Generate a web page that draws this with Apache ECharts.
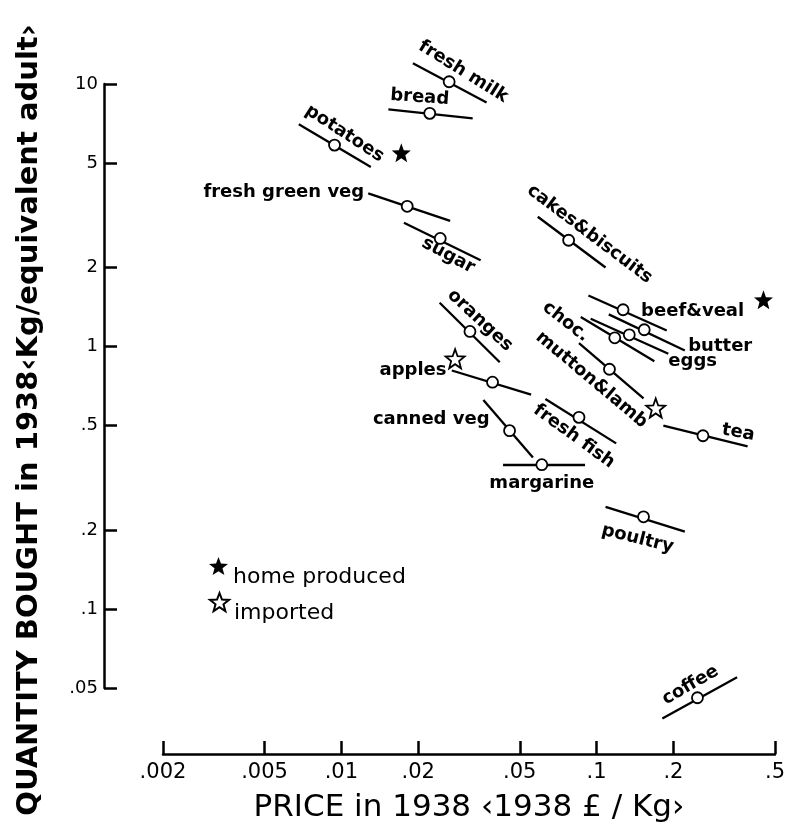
<!DOCTYPE html>
<html><head><meta charset="utf-8">
<script src="https://cdn.jsdelivr.net/npm/echarts@6/dist/echarts.min.js"></script>
<style>html,body{margin:0;padding:0;background:#fff}#c{width:788px;height:829px}</style>
</head><body><div id="c"></div>
<script>
// ---- data ----
const foods = ['fresh milk','bread','potatoes','fresh green veg','sugar','cakes&biscuits','beef&veal','butter','choc.','eggs','mutton&lamb','tea','fresh fish','oranges','apples','canned veg','margarine','poultry','coffee'];
const price    = [0.02644,0.02219,0.00940,0.01811,0.02440,0.0777,0.1270,0.1537,0.1178,0.1343,0.1123,0.2611,0.0853,0.0319,0.0391,0.0456,0.0610,0.1527,0.2484];
const quantity = [10.2,7.73,5.85,3.42,2.58,2.54,1.38,1.158,1.079,1.108,0.819,0.457,0.537,1.141,0.731,0.478,0.3545,0.2245,0.0459];
const segStartPrice = [0.01906,0.01528,0.00681,0.01274,0.01758,0.0588,0.0929,0.1116,0.0867,0.0948,0.0853,0.1826,0.0630,0.02427,0.02709,0.0360,0.0430,0.1084,0.1810];
const segStartQty   = [11.99,8.01,7.02,3.83,2.96,3.12,1.565,1.325,1.294,1.276,1.029,0.4994,0.631,1.468,0.810,0.626,0.355,0.245,0.0383];
const segEndPrice   = [0.03706,0.03269,0.01304,0.02668,0.03512,0.1084,0.1883,0.2217,0.1684,0.1910,0.1527,0.3906,0.1193,0.04174,0.0554,0.0563,0.0901,0.2217,0.3552];
const segEndQty     = [8.51,7.40,4.83,3.01,2.13,2.00,1.151,0.965,0.879,0.938,0.635,0.4164,0.4275,0.871,0.656,0.378,0.355,0.197,0.0550];
const homeProducedPrice = [0.01717,0.4507];
const homeProducedQty   = [5.47,1.507];
const importedPrice = [0.1705,0.0279];
const importedQty   = [0.583,0.898];
const xTickValues = [0.002,0.005,0.01,0.02,0.05,0.1,0.2,0.5];
const xTickLabels = ['.002','.005','.01','.02','.05','.1','.2','.5'];
const yTickValues = [0.05,0.1,0.2,0.5,1,2,5,10];
const yTickLabels = ['.05','.1','.2','.5','1','2','5','10'];

// ---- label placement (screen px offset from point, rotation, alignment) ----
const labelPlacement = {
  'fresh milk':[14,-10,-32,'center'],
  'bread':[-10,-16,-4,'center'],
  'potatoes':[10,-11.5,-33,'center'],
  'fresh green veg':[-43,-14,0,'right'],
  'sugar':[8,17,-28,'center'],
  'cakes&biscuits':[21,-6,-37,'center'],
  'beef&veal':[18,2,0,'left'],
  'butter':[44,17,0,'left'],
  'choc.':[-49,-16,-38,'center'],
  'eggs':[39,27,0,'left'],
  'mutton&lamb':[-18,10.5,-40,'center'],
  'tea':[19,-6,-10,'left'],
  'fresh fish':[-5,19,-36,'center'],
  'oranges':[10,-11,-43,'center'],
  'apples':[-46,-12,0,'right'],
  'canned veg':[-20,-11,0,'right'],
  'margarine':[0,18.5,0,'center'],
  'poultry':[-6,22,-14,'center'],
  'coffee':[-7,-12.5,30,'center']
};

const FONT = 'DejaVu Sans';
const STAR = 'path://M50 0L62.34 33.01L97.55 34.55L69.97 56.49L79.39 90.45L50 71L20.61 90.45L30.03 56.49L2.45 34.55L37.66 33.01Z';

function tickFmt(values, labels) {
  return function (v) {
    for (let i = 0; i < values.length; i++) {
      if (Math.abs(Math.log10(v) - Math.log10(values[i])) < 1e-6) return labels[i];
    }
    return '';
  };
}
function labelFor(name) {
  const p = labelPlacement[name];
  const t = p[2] * Math.PI / 180;
  const ox = p[0] * Math.cos(t) - p[1] * Math.sin(t);
  const oy = p[0] * Math.sin(t) + p[1] * Math.cos(t);
  return {
    show: true, position: 'inside', formatter: name, rotate: p[2], offset: [ox, oy],
    align: p[3], verticalAlign: 'middle', color: '#000',
    fontFamily: FONT, fontSize: 18, fontWeight: 'bold'
  };
}
function legendBlock(name, top) {
  return {
    data: [name], orient: 'vertical', left: 204, top: top, itemWidth: 19, itemHeight: 19, itemGap: 0,
    selectedMode: false, formatter: '{t|{name}}',
    textStyle: {rich: {t: {fontFamily: FONT, fontSize: 22, color: '#000', padding: [22, 0, 0, 0]}}}
  };
}

const chart = echarts.init(document.getElementById('c'), null, {renderer: 'canvas'});
chart.setOption({
  animation: false,
  backgroundColor: '#fff',
  grid: {left: 163, right: 7, top: 84, bottom: 141},
  legend: [legendBlock('home produced', 552), legendBlock('imported', 587)],
  xAxis: {
    type: 'log', logBase: 10, min: 0.002, max: 0.5, offset: 66,
    axisLine: {lineStyle: {color: '#000', width: 2.5}},
    axisTick: {show: true, inside: true, length: 13, customValues: xTickValues, lineStyle: {color: '#000', width: 2.5}},
    axisLabel: {customValues: xTickValues, formatter: tickFmt(xTickValues, xTickLabels), fontFamily: FONT, fontSize: 21, color: '#000', margin: 8},
    splitLine: {show: false}, minorTick: {show: false},
    name: 'PRICE in 1938 \u20391938 \u00a3 / Kg\u203a', nameLocation: 'middle', nameGap: 38,
    nameTextStyle: {fontFamily: FONT, fontSize: 31, color: '#000'}
  },
  yAxis: {
    type: 'log', logBase: 10, min: 0.05, max: 10, offset: 59,
    axisLine: {lineStyle: {color: '#000', width: 2.5}},
    axisTick: {show: true, inside: true, length: 13, customValues: yTickValues, lineStyle: {color: '#000', width: 2.5}},
    axisLabel: {customValues: yTickValues, formatter: tickFmt(yTickValues, yTickLabels), fontFamily: FONT, fontSize: 18, color: '#000', margin: 6},
    splitLine: {show: false}, minorTick: {show: false},
    name: 'QUANTITY BOUGHT in 1938\u2039Kg/equivalent adult\u203a', nameLocation: 'middle', nameRotate: 90, nameGap: 60,
    nameTextStyle: {fontFamily: FONT, fontSize: 29, fontWeight: 'bold', color: '#000', padding: [0, 68, 0, 0]}
  },
  series: [
    {
      type: 'lines', coordinateSystem: 'cartesian2d', clip: false, silent: true, z: 2,
      lineStyle: {color: '#000', width: 2.3, opacity: 1},
      data: foods.map((f, i) => ({coords: [[segStartPrice[i], segStartQty[i]], [segEndPrice[i], segEndQty[i]]]}))
    },
    {
      name: 'foods', type: 'scatter', clip: false, z: 3, symbol: 'circle', symbolSize: 11,
      itemStyle: {color: '#fff', borderColor: '#000', borderWidth: 1.8, opacity: 1},
      data: foods.map((f, i) => ({name: f, value: [price[i], quantity[i]], label: labelFor(f)}))
    },
    {
      name: 'home produced', type: 'scatter', clip: false, z: 3, symbol: STAR, symbolSize: 19,
      itemStyle: {color: '#000', opacity: 1},
      data: homeProducedPrice.map((p, i) => [p, homeProducedQty[i]])
    },
    {
      name: 'imported', type: 'scatter', clip: false, z: 3, symbol: STAR, symbolSize: 19,
      itemStyle: {color: '#fff', borderColor: '#000', borderWidth: 1.8, opacity: 1},
      data: importedPrice.map((p, i) => [p, importedQty[i]])
    }
  ]
});
</script>
</body></html>
